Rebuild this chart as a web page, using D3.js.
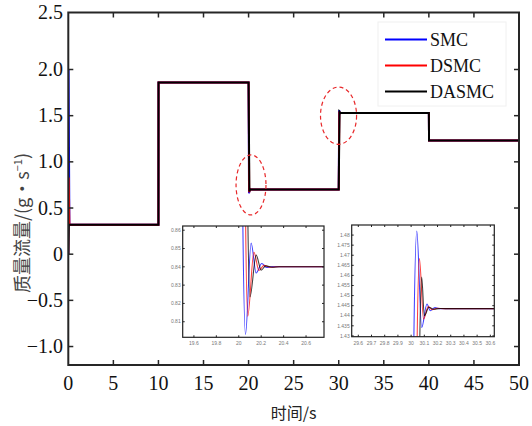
<!DOCTYPE html>
<html>
<head>
<meta charset="utf-8">
<script src="https://cdn.jsdelivr.net/npm/d3@7"></script>
<style>
  body { margin: 0; background: #fff; }
  svg text.sf { font-family: "Liberation Serif", "DejaVu Serif", serif; }
</style>
</head>
<body>
<svg id="chart" width="532" height="426"></svg>
<script>
// ---- data: [time (s), mass flow] ----
const smcMain = [[0,0],[0.03,2.0],[0.12,0.32],[10,0.32],[10.01,1.86],[20,1.86],[20.05,0.66],[20.12,0.71],[20.2,0.70],[30,0.70],[30.05,1.56],[30.1,1.52],[30.2,1.53],[40,1.53],[40.02,1.23],[50,1.23]];
const dsmcMain = [[0,0],[0.05,0.83],[0.12,0.32],[10,0.32],[10.01,1.86],[20,1.86],[20.07,0.67],[20.14,0.705],[20.2,0.70],[30,0.70],[30.07,1.545],[30.12,1.525],[30.2,1.53],[40,1.53],[40.02,1.23],[50,1.23]];
const dasmcMain = [[0,0],[0.06,0.32],[10,0.32],[10.01,1.86],[20,1.86],[20.09,0.68],[20.16,0.70],[30,0.70],[30.09,1.54],[30.16,1.53],[40,1.53],[40.02,1.23],[50,1.23]];

// zoom around t = 20 s
const smcZoom1 = [[19.5,1.86],[20.02,1.86],[20.035,0.87],[20.06,0.803],[20.11,0.853],[20.155,0.8366],[20.205,0.8418],[20.25,0.8396],[20.3,0.8401],[20.4,0.84],[20.76,0.84]];
const dsmcZoom1 = [[19.5,1.86],[20.04,1.86],[20.06,0.87],[20.08,0.813],[20.135,0.848],[20.18,0.838],[20.225,0.8408],[20.28,0.8398],[20.35,0.84],[20.76,0.84]];
const dasmcZoom1 = [[19.5,1.86],[20.06,1.86],[20.08,0.87],[20.10,0.8236],[20.155,0.8464],[20.2,0.8382],[20.24,0.8405],[20.3,0.8398],[20.36,0.84],[20.76,0.84]];

// zoom around t = 30 s
const smcZoom2 = [[29.55,0.70],[30.0,0.70],[30.02,1.425],[30.043,1.482],[30.08,1.4341],[30.12,1.4458],[30.145,1.4425],[30.18,1.444],[30.22,1.4435],[30.63,1.4435]];
const dsmcZoom2 = [[29.55,0.70],[30.03,0.70],[30.045,1.425],[30.063,1.4683],[30.094,1.4383],[30.13,1.4445],[30.16,1.443],[30.2,1.4437],[30.25,1.4435],[30.63,1.4435]];
const dasmcZoom2 = [[29.55,0.70],[30.05,0.70],[30.065,1.425],[30.08,1.4592],[30.1,1.44],[30.135,1.4442],[30.17,1.4432],[30.22,1.4436],[30.26,1.4435],[30.63,1.4435]];

const seriesNames = ["SMC", "DSMC", "DASMC"];
const seriesColors = ["#0000ff", "#ff0000", "#000000"];

const xTicks = [0, 5, 10, 15, 20, 25, 30, 35, 40, 45, 50];
const yTicks = [-1, -0.5, 0, 0.5, 1, 1.5, 2, 2.5];
const yTickLabels = ["\u22121.0", "\u22120.5", "0", "0.5", "1.0", "1.5", "2.0", "2.5"];

const zoom1XTicks = [19.6, 19.8, 20, 20.2, 20.4, 20.6];
const zoom1YTicks = [0.81, 0.82, 0.83, 0.84, 0.85, 0.86];
const zoom2XTicks = [29.6, 29.7, 29.8, 29.9, 30, 30.1, 30.2, 30.3, 30.4, 30.5, 30.6];
const zoom2YTicks = [1.43, 1.435, 1.44, 1.445, 1.45, 1.455, 1.46, 1.465, 1.47, 1.475, 1.48];

// dashed ellipses marking the zoomed spots: [t, value, half-width s, half-height]
const marks = [[20.27, 0.75, 1.66, 0.325], [29.98, 1.50, 2.0, 0.31]];

const cjk = "'Noto Sans CJK SC', sans-serif";

// ---- layout ----
const svg = d3.select("#chart");
const pL = 68.3, pR = 519, pT = 12.5, pB = 365;

const x = d3.scaleLinear().domain([0, 50]).range([pL, pR]);
// axis labels were not evenly spaced at the top, hence the extra break
const y = d3.scaleLinear().domain([-1.2, 2.0, 2.5]).range([pB, 69.5, pT]);

svg.append("clipPath").attr("id", "mainClip")
  .append("rect").attr("x", pL).attr("y", pT)
  .attr("width", pR - pL).attr("height", pB - pT);

const mainLine = d3.line().x(d => x(d[0])).y(d => y(d[1]));

const plot = svg.append("g").attr("clip-path", "url(#mainClip)");
[smcMain, dsmcMain, dasmcMain].forEach((s, i) => {
  plot.append("path")
    .datum(s)
    .attr("fill", "none")
    .attr("stroke", seriesColors[i])
    .attr("stroke-width", 2)
    .attr("d", mainLine);
});

// frame + ticks
svg.append("rect")
  .attr("x", pL).attr("y", pT)
  .attr("width", pR - pL).attr("height", pB - pT)
  .attr("fill", "none").attr("stroke", "#262626").attr("stroke-width", 2);

const tk = 5;
xTicks.slice(1, -1).forEach(t => {
  svg.append("line").attr("x1", x(t)).attr("x2", x(t)).attr("y1", pB).attr("y2", pB - tk)
    .attr("stroke", "#262626").attr("stroke-width", 1.5);
  svg.append("line").attr("x1", x(t)).attr("x2", x(t)).attr("y1", pT).attr("y2", pT + tk)
    .attr("stroke", "#262626").attr("stroke-width", 1.5);
});
yTicks.slice(0, -1).forEach(v => {
  svg.append("line").attr("x1", pL).attr("x2", pL + tk).attr("y1", y(v)).attr("y2", y(v))
    .attr("stroke", "#262626").attr("stroke-width", 1.5);
  svg.append("line").attr("x1", pR).attr("x2", pR - tk).attr("y1", y(v)).attr("y2", y(v))
    .attr("stroke", "#262626").attr("stroke-width", 1.5);
});

svg.selectAll(".xl").data(xTicks).join("text")
  .attr("class", "sf")
  .attr("x", d => x(d)).attr("y", 390)
  .attr("text-anchor", "middle").attr("font-size", 20).attr("fill", "#111")
  .text(d => d);

svg.selectAll(".yl").data(yTicks).join("text")
  .attr("class", "sf")
  .attr("x", 63).attr("y", d => y(d)).attr("dy", "0.33em")
  .attr("text-anchor", "end").attr("font-size", 20).attr("fill", "#111")
  .text((d, i) => yTickLabels[i]);

// axis titles
svg.append("text")
  .attr("x", (pL + pR) / 2).attr("y", 419)
  .attr("text-anchor", "middle").attr("font-size", 16).attr("fill", "#222")
  .attr("font-family", cjk)
  .text("时间/s");

const yt = svg.append("text")
  .attr("transform", "translate(29,223) rotate(-90)")
  .attr("text-anchor", "middle").attr("font-size", 18).attr("fill", "#444")
  .attr("font-family", cjk);
yt.append("tspan").text("质量流量/(g・s");
yt.append("tspan").attr("font-size", 11).attr("dy", -7).text("\u22121");
yt.append("tspan").attr("dy", 7).text(")");

// dashed ellipses
svg.selectAll(".mark").data(marks).join("ellipse")
  .attr("cx", d => x(d[0])).attr("cy", d => y(d[1]))
  .attr("rx", d => x(d[2]) - x(0)).attr("ry", d => y(0) - y(d[3]))
  .attr("fill", "none").attr("stroke", "#e8282a").attr("stroke-width", 1.2)
  .attr("stroke-dasharray", "4,3");

// legend
const lg = svg.append("g");
lg.append("rect").attr("x", 378).attr("y", 22).attr("width", 128).attr("height", 84)
  .attr("fill", "#fff").attr("stroke", "#f0f0f0").attr("stroke-width", 1);
seriesNames.forEach((n, i) => {
  const ly = 39.5 + i * 26;
  lg.append("line").attr("x1", 385).attr("x2", 427).attr("y1", ly).attr("y2", ly)
    .attr("stroke", seriesColors[i]).attr("stroke-width", 2);
  lg.append("text").attr("class", "sf").attr("x", 430).attr("y", ly).attr("dy", "0.35em")
    .attr("font-size", 18).attr("fill", "#111").text(n);
});

// ---- insets ----
function drawInset(id, box, xDom, yDom, xt, yt2, series) {
  const ix = d3.scaleLinear().domain(xDom).range([box.x0, box.x1]);
  const iy = d3.scaleLinear().domain(yDom).range([box.y1, box.y0]);
  const g = svg.append("g");
  g.append("rect").attr("x", box.x0).attr("y", box.y0)
    .attr("width", box.x1 - box.x0).attr("height", box.y1 - box.y0)
    .attr("fill", "#fff");
  g.append("clipPath").attr("id", id)
    .append("rect").attr("x", box.x0).attr("y", box.y0)
    .attr("width", box.x1 - box.x0).attr("height", box.y1 - box.y0);
  const ln = d3.line().x(d => ix(d[0])).y(d => iy(d[1])).curve(d3.curveMonotoneX);
  const lines = g.append("g").attr("clip-path", `url(#${id})`);
  series.forEach((s, i) => {
    lines.append("path").datum(s)
      .attr("fill", "none").attr("stroke", seriesColors[i])
      .attr("stroke-width", 1.1).attr("stroke-opacity", 0.75)
      .attr("d", ln);
  });
  g.append("rect").attr("x", box.x0).attr("y", box.y0)
    .attr("width", box.x1 - box.x0).attr("height", box.y1 - box.y0)
    .attr("fill", "none").attr("stroke", "#222").attr("stroke-width", 1.2);
  const fmt = d3.format(".4~g");
  xt.forEach(t => {
    g.append("line").attr("x1", ix(t)).attr("x2", ix(t)).attr("y1", box.y1).attr("y2", box.y1 - 2)
      .attr("stroke", "#222");
    g.append("line").attr("x1", ix(t)).attr("x2", ix(t)).attr("y1", box.y0).attr("y2", box.y0 + 2)
      .attr("stroke", "#222");
    g.append("text").attr("x", ix(t)).attr("y", box.y1 + 8)
      .attr("text-anchor", "middle").attr("font-size", 5).attr("fill", "#777")
      .attr("font-family", "'Liberation Sans', sans-serif").text(fmt(t));
  });
  yt2.forEach(v => {
    g.append("line").attr("x1", box.x0).attr("x2", box.x0 + 2).attr("y1", iy(v)).attr("y2", iy(v))
      .attr("stroke", "#222");
    g.append("line").attr("x1", box.x1).attr("x2", box.x1 - 2).attr("y1", iy(v)).attr("y2", iy(v))
      .attr("stroke", "#222");
    g.append("text").attr("x", box.x0 - 2).attr("y", iy(v)).attr("dy", "0.35em")
      .attr("text-anchor", "end").attr("font-size", 5).attr("fill", "#777")
      .attr("font-family", "'Liberation Sans', sans-serif").text(fmt(v));
  });
}

drawInset("z1", {x0: 182.7, x1: 324, y0: 226, y1: 337.3}, [19.5, 20.76], [0.8015, 0.8623],
  zoom1XTicks, zoom1YTicks, [smcZoom1, dsmcZoom1, dasmcZoom1]);
drawInset("z2", {x0: 351.7, x1: 494.3, y0: 225, y1: 336.7}, [29.55, 30.63], [1.4296, 1.485],
  zoom2XTicks, zoom2YTicks, [smcZoom2, dsmcZoom2, dasmcZoom2]);
</script>
</body>
</html>
